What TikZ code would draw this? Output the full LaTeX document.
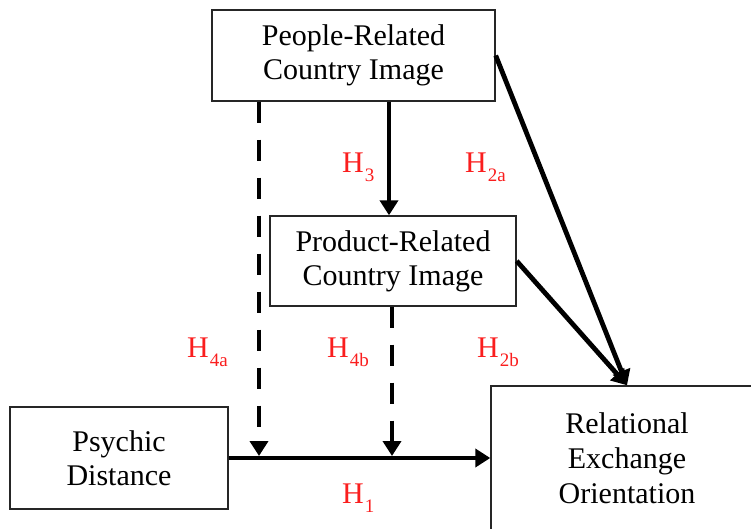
\documentclass[tikz,border=0pt]{standalone}
\usepackage{fontspec}
\setmainfont{Liberation Serif}
\usetikzlibrary{arrows.meta}
\definecolor{hred}{RGB}{250,30,30}
\begin{document}
\begin{tikzpicture}[x=1pt,y=-1pt,
  box/.style={draw=black!85, line width=1.4pt, align=center, inner sep=0pt,
    font=\fontsize{30}{34}\selectfont},
  link/.style={line width=4.8pt, -{Triangle[length=15pt,width=18pt]}},
  dlink/.style={link, dash pattern=on 21pt off 17pt},
  hyp/.style={text=hred, anchor=base west, inner sep=0pt,
    font=\fontsize{30}{30}\selectfont}]
\useasboundingbox (0,0) rectangle (751,529);
\clip (0,0) rectangle (751,529);

% constructs
\node[box, minimum width=283pt, minimum height=91pt] (people) at (353.5,55.5)
  {People-Related\\Country Image};
\node[box, minimum width=246pt, minimum height=90pt] (product) at (393,261)
  {Product-Related\\Country Image};
\node[box, minimum width=218pt, minimum height=102pt] (psychic) at (119,458)
  {Psychic\\Distance};
\node[box, minimum width=272pt, minimum height=144pt,
  font=\fontsize{30}{35}\selectfont] (reo) at (627,458)
  {Relational\\Exchange\\Orientation};

% junction points on the main path
\coordinate (j1) at (259,456);
\coordinate (j2) at (392,456);
\coordinate (c3) at (389,0);

% paths
\draw[link] (psychic.east) -- (reo.west);
\draw[link] (people.south -| c3) -- (product.north -| c3);
\draw[link] (people.east) -- (reo.north);
\draw[link] (product.east) -- (reo.north);
\draw[dlink] (people.south -| j1) -- (j1);
\draw[dlink] (product.south -| j2) -- (j2);

% hypothesis labels
\newcommand{\hsub}[1]{\kern1pt\raisebox{-9pt}{\fontsize{19}{19}\selectfont #1}}
\node[hyp] (h3)  at (342,173) {H\hsub{3}};
\node[hyp] (h2a) at (465,173) {H\hsub{2a}};
\node[hyp] (h4a) at (187,357) {H\hsub{4a}};
\node[hyp] (h4b) at (327,357) {H\hsub{4b}};
\node[hyp] (h2b) at (477,357) {H\hsub{2b}};
\node[hyp] (h1)  at (342,503) {H\hsub{1}};
\end{tikzpicture}
\end{document}
